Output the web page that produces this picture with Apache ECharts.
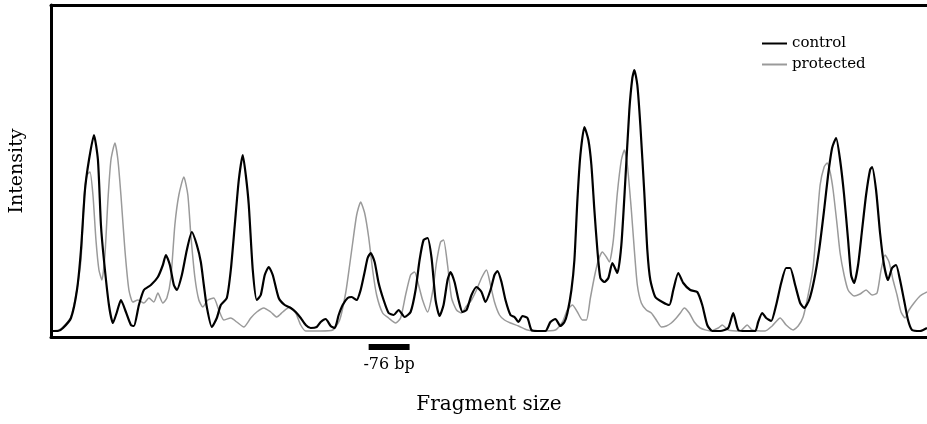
<!DOCTYPE html>
<html>
<head>
<meta charset="utf-8">
<script src="https://cdn.jsdelivr.net/npm/echarts@6/dist/echarts.min.js"></script>
<style>
  html, body { margin: 0; padding: 0; background: #fff; }
  #main { width: 927px; height: 424px; }
</style>
</head>
<body>
<div id="main"></div>
<script>
// fragment position (arbitrary units) / intensity
var controlData = [
  [0,1],[7,1],[12,4],[20,14],[26,42],[30,82],[34,142],[38,172],[43,197],[47,172],
  [50,107],[53,72],[58,27],[62,9],[66,20],[70,32],[75,20],[80,7],[83,6],[88,27],
  [93,42],[100,47],[107,55],[112,67],[115,77],[119,67],[123,47],[126,42],[131,57],[136,82],
  [141,100],[146,87],[150,70],[153,47],[156,25],[161,5],[166,14],[170,27],[176,34],[180,62],
  [184,107],[188,152],[192,177],[195,157],[198,127],[202,62],[206,32],[210,37],[214,57],[218,65],
  [222,57],[228,34],[234,27],[240,24],[245,20],[250,14],[255,7],[260,4],[266,5],[270,10],
  [275,13],[280,6],[284,4],[288,17],[292,27],[297,34],[301,35],[306,32],[310,42],[314,60],
  [317,74],[320,79],[324,70],[328,49],[333,32],[338,19],[343,17],[348,22],[354,15],[360,20],
  [365,42],[369,72],[373,92],[377,94],[381,74],[385,32],[389,16],[393,27],[397,52],[400,60],
  [404,50],[408,32],[412,20],[416,22],[421,37],[426,45],[431,40],[435,30],[440,42],[444,57],
  [447,61],[451,50],[455,32],[460,17],[464,15],[468,10],[472,16],[477,14],[481,2],[487,1],
  [495,1],[500,10],[505,13],[510,6],[514,10],[517,19],[521,42],[524,72],[527,132],[530,177],
  [534,205],[538,192],[541,167],[544,122],[547,82],[550,54],[554,50],[558,54],[562,69],[567,59],
  [571,87],[575,152],[579,222],[582,254],[584,262],[587,247],[590,207],[594,139],[597,82],[600,52],
  [605,35],[612,30],[619,27],[623,42],[628,59],[633,49],[640,42],[647,40],[652,27],[657,7],
  [662,1],[670,1],[678,4],[683,19],[688,2],[695,1],[705,1],[708,10],[712,19],[716,14],
  [721,11],[726,27],[731,49],[736,64],[740,64],[745,47],[750,29],[754,24],[759,32],[764,52],
  [769,82],[774,122],[778,157],[782,184],[786,194],[790,172],[794,137],[798,92],[801,57],[804,49],
  [808,67],[812,102],[816,137],[820,162],[822,165],[826,142],[830,99],[834,67],[838,52],[842,64],
  [846,67],[850,52],[854,32],[858,12],[862,2],[870,1],[877,4]
];
var protectedData = [
  [0,1],[8,2],[14,7],[20,15],[25,37],[30,72],[33,132],[36,157],[39,160],[42,137],
  [45,92],[48,62],[51,52],[54,77],[57,132],[60,172],[64,189],[67,172],[70,137],[74,82],
  [78,42],[82,30],[87,32],[93,29],[98,34],[103,30],[107,39],[112,29],[116,34],[120,54],
  [124,107],[128,137],[133,155],[137,137],[140,97],[144,55],[148,32],[152,25],[157,32],[163,34],
  [168,22],[173,12],[180,14],[186,10],[193,5],[200,14],[206,20],[213,24],[220,20],[226,15],
  [232,20],[239,25],[245,19],[250,7],[255,1],[270,1],[282,2],[289,12],[295,39],[299,67],
  [302,89],[306,117],[310,130],[314,119],[318,95],[322,62],[326,37],[332,19],[338,14],[345,9],
  [350,14],[355,37],[360,57],[364,60],[368,47],[372,32],[377,20],[382,40],[386,70],[390,90],
  [393,92],[397,67],[401,34],[406,22],[411,19],[416,26],[421,32],[426,42],[431,54],[436,62],
  [440,47],[444,30],[449,17],[454,12],[460,9],[468,6],[477,2],[490,1],[505,2],[512,10],
  [517,22],[522,27],[527,20],[532,12],[536,12],[540,34],[544,55],[548,72],[552,80],[556,75],
  [559,70],[563,92],[567,139],[571,172],[574,182],[577,167],[581,122],[584,82],[587,47],[591,29],
  [596,22],[601,19],[606,12],[611,5],[616,6],[621,9],[626,14],[630,19],[634,24],[639,19],
  [644,10],[650,4],[660,1],[668,4],[672,7],[678,2],[690,1],[697,7],[702,2],[715,1],
  [722,6],[730,14],[736,7],[743,2],[748,6],[753,15],[758,37],[763,65],[767,112],[770,147],
  [774,165],[777,169],[780,160],[783,142],[787,107],[790,79],[794,57],[798,42],[804,36],[810,38],
  [816,42],[822,37],[827,39],[831,62],[835,77],[839,70],[843,52],[847,37],[851,20],[855,14],
  [859,22],[864,29],[870,36],[877,40]
];
var seriesNames = ['control', 'protected'];
var markerRange = [318, 359];   // the -76 bp region
var markerLabel = '-76 bp';

var serif = 'DejaVu Serif';
var myChart = echarts.init(document.getElementById('main'));

var option = {
    animation: false,
    backgroundColor: '#fff',
    grid: { left: 50, right: 0, top: 5, bottom: 87 },
    legend: {
        orient: 'vertical',
        left: 757,
        top: 31,
        icon: 'rect',
        itemWidth: 25,
        itemHeight: 2,
        itemGap: 6,
        textStyle: { fontFamily: serif, fontSize: 15, color: '#000' },
        data: seriesNames
    },
    xAxis: [{
        type: 'value', min: 0, max: 877,
        name: 'Fragment size', nameLocation: 'middle', nameGap: 58,
        nameTextStyle: { fontFamily: serif, fontSize: 20, color: '#000' },
        axisLine: { show: true, onZero: false, lineStyle: { color: '#000', width: 3 } },
        axisTick: { show: false }, axisLabel: { show: false }, splitLine: { show: false }
    }, {
        type: 'value', min: 0, max: 877, position: 'top',
        axisLine: { show: true, onZero: false, lineStyle: { color: '#000', width: 3 } },
        axisTick: { show: false }, axisLabel: { show: false }, splitLine: { show: false }
    }],
    yAxis: {
        type: 'value', min: -5, max: 327,
        name: 'Intensity', nameLocation: 'middle', nameGap: 24,
        nameTextStyle: { fontFamily: serif, fontSize: 19, color: '#000' },
        axisLine: { show: true, lineStyle: { color: '#000', width: 3 } },
        axisTick: { show: false }, axisLabel: { show: false }, splitLine: { show: false }
    },
    series: [{
        name: seriesNames[1], type: 'line', data: protectedData,
        symbol: 'none', smooth: 0.2,
        lineStyle: { color: '#9a9a9a', width: 1.5 }, itemStyle: { color: '#9a9a9a' }
    }, {
        name: seriesNames[0], type: 'line', data: controlData,
        symbol: 'none', smooth: 0.2,
        lineStyle: { color: '#000', width: 2.2 }, itemStyle: { color: '#000' }
    }]
};
myChart.setOption(option);

// bar + label under the axis for the -76 bp region
var x0 = myChart.convertToPixel({ xAxisIndex: 0 }, markerRange[0]);
var x1 = myChart.convertToPixel({ xAxisIndex: 0 }, markerRange[1]);
myChart.setOption({
    graphic: [{
        type: 'rect', shape: { x: x0, y: 344, width: x1 - x0, height: 6 },
        style: { fill: '#000' }
    }, {
        type: 'text', x: (x0 + x1) / 2, y: 365,
        style: { text: markerLabel, fontFamily: serif, fontSize: 16, fill: '#000',
                 align: 'center', verticalAlign: 'middle' }
    }]
});
</script>
</body>
</html>
